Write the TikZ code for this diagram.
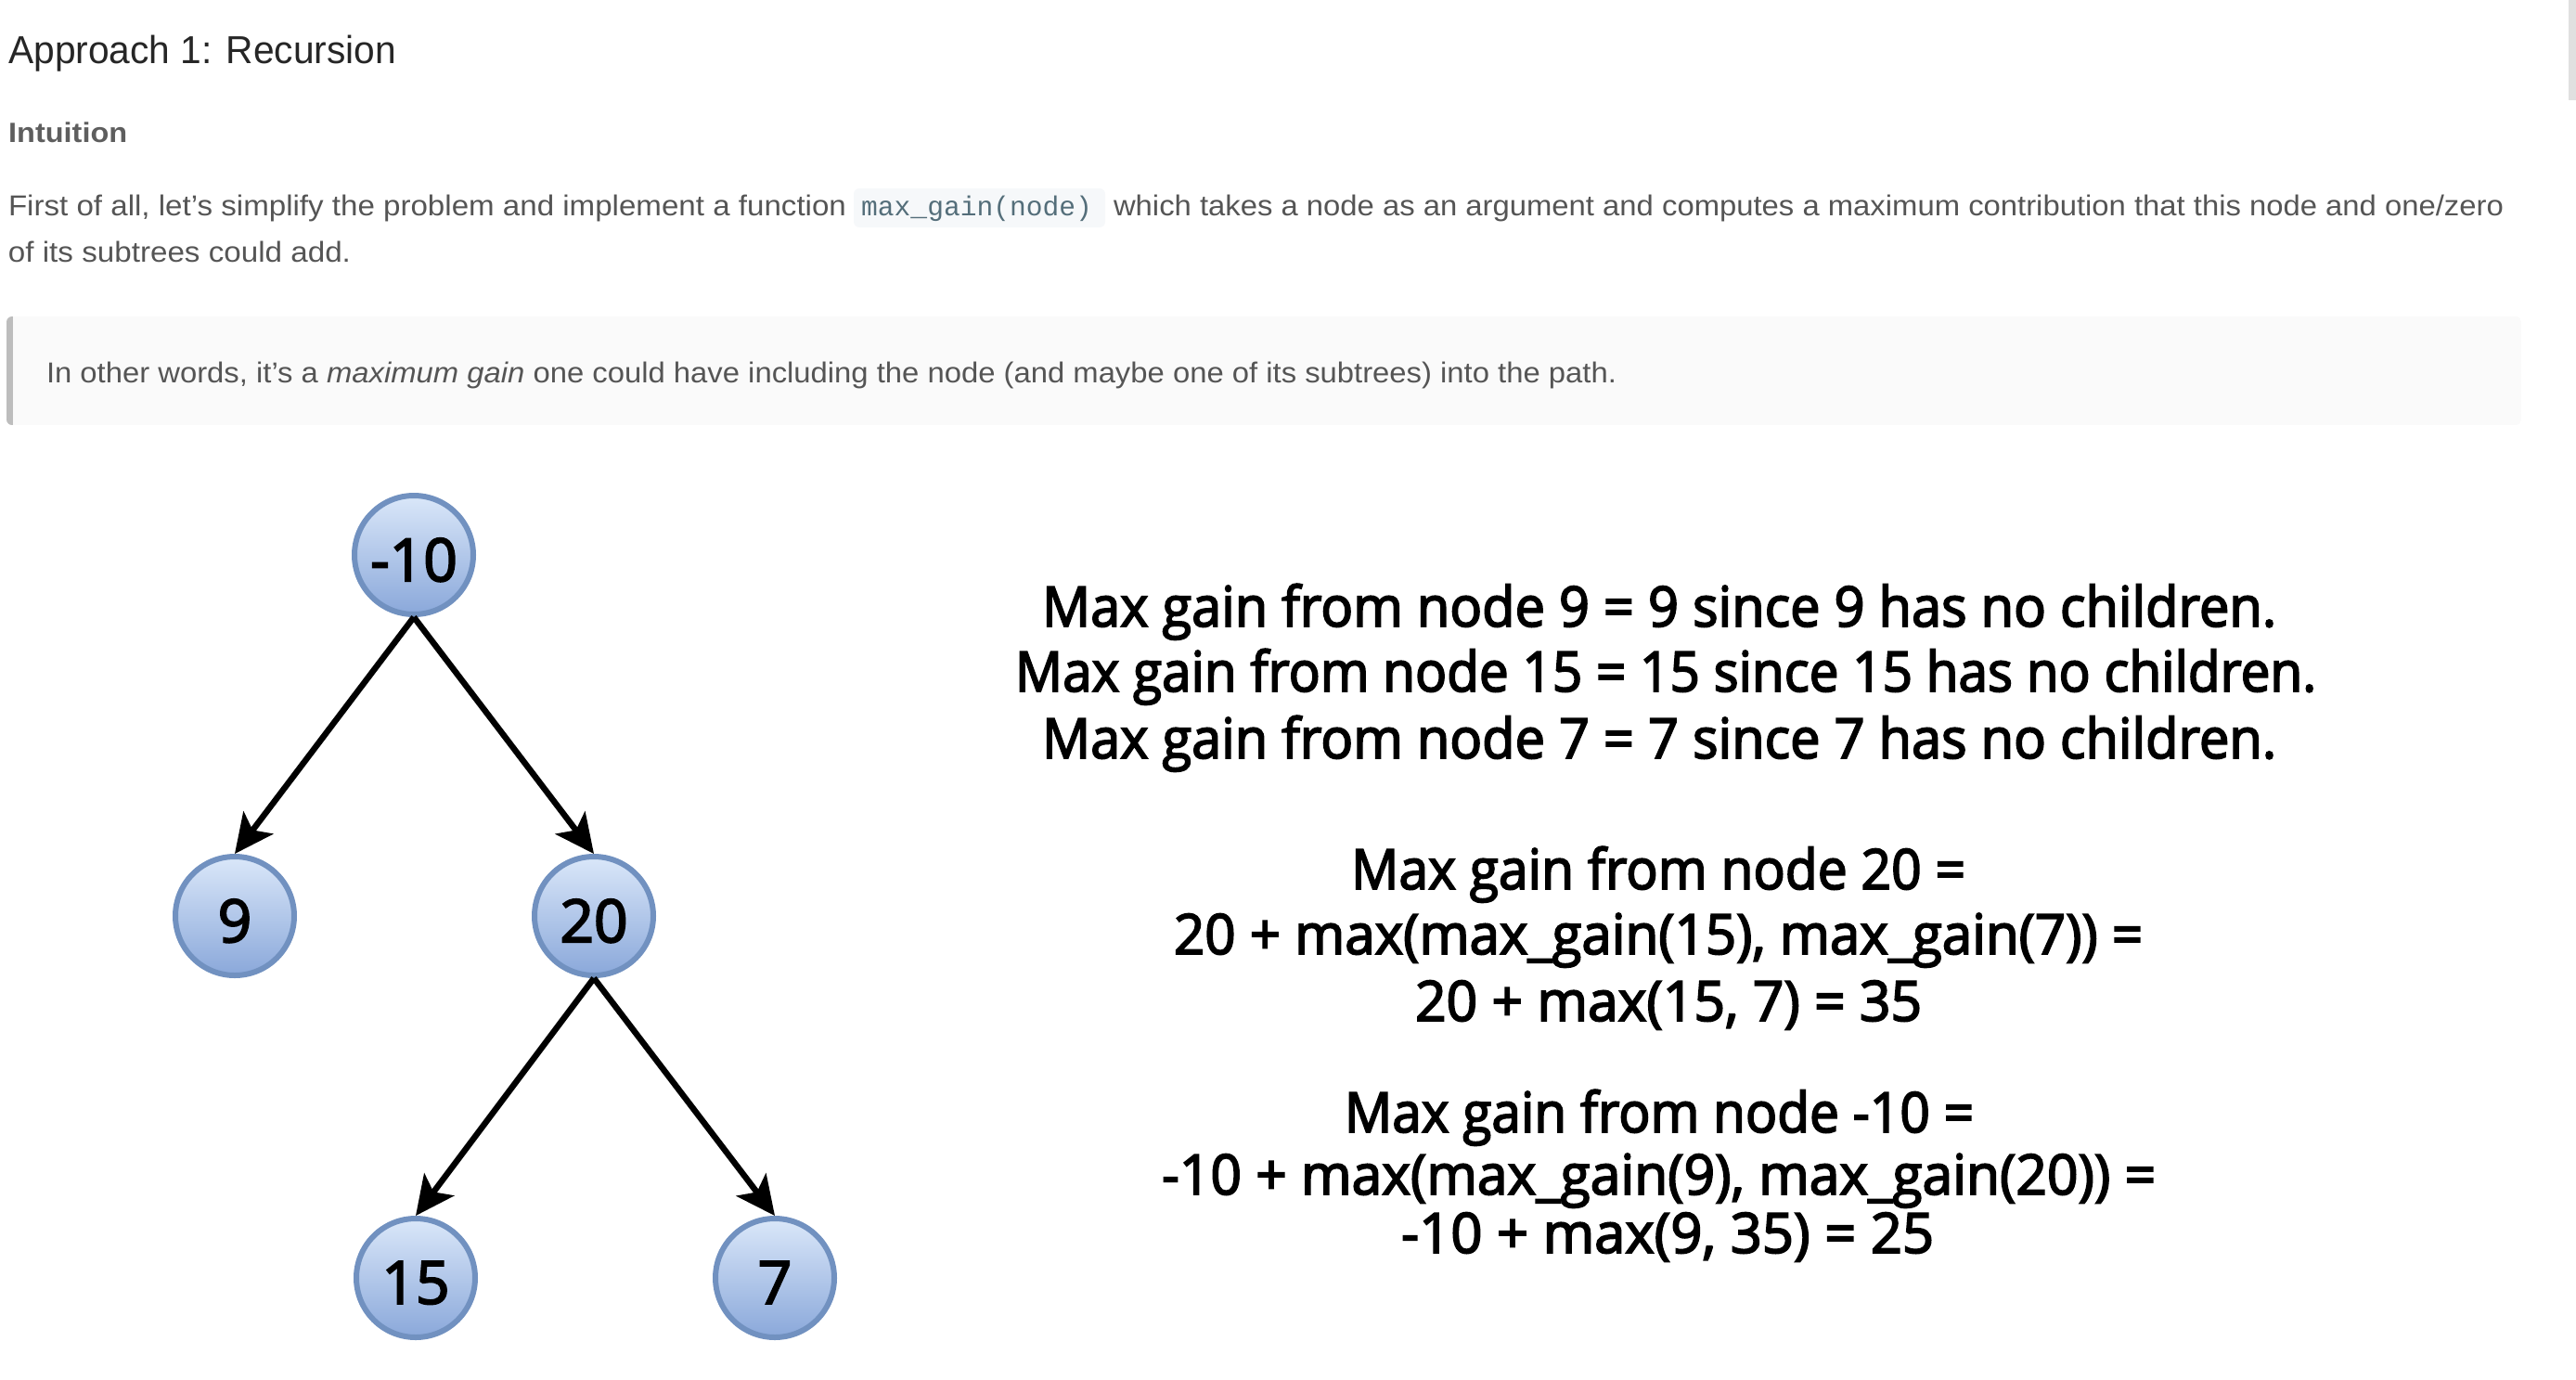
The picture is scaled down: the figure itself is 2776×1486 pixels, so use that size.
\documentclass[tikz,border=0pt]{standalone}
\usepackage{fontspec}
\usepackage{graphicx}
\usetikzlibrary{arrows.meta}
\setmainfont{Liberation Sans}
\newfontfamily\comicf{Open Sans}[UprightFeatures={FakeBold=3}]
\newfontfamily\codef{Liberation Mono}
\newcommand{\fitw}[2]{\resizebox{#1pt}{\height}{#2}}
\newcommand{\lowr}[1]{\raisebox{-5pt}[\height][0pt]{#1}}
\definecolor{titlec}{HTML}{262626}
\definecolor{intuc}{HTML}{5E5E5E}
\definecolor{bodyc}{HTML}{555555}
\definecolor{codebg}{HTML}{F6F8FA}
\definecolor{codec}{HTML}{546E7A}
\definecolor{quotebg}{HTML}{FAFAFA}
\definecolor{quotebar}{HTML}{BDBDBD}
\definecolor{scrollc}{HTML}{E0E0E0}
\definecolor{nodetop}{HTML}{DAE7F9}
\definecolor{nodebot}{HTML}{8AA8DA}
\definecolor{nodeedge}{HTML}{7191C0}
\tikzset{
  webtxt/.style={anchor=base west, inner sep=0pt, outer sep=0pt, text=bodyc, font=\fontsize{31}{36}\selectfont},
  comictxt/.style={anchor=base west, inner sep=0pt, outer sep=0pt, text=black, font=\comicf\fontsize{60}{70}\selectfont},
  tnode/.style={circle, minimum size=128pt, inner sep=0pt, line width=6pt, draw=nodeedge,
    top color=nodetop, bottom color=nodebot, text=black, font=\comicf\fontsize{64}{70}\selectfont},
  treearrow/.style={line width=6.5pt, black, -{Stealth[length=42pt, width=40pt, inset=10pt]}}
}
\begin{document}
\begin{tikzpicture}[x=1pt,y=-1pt]
\useasboundingbox (0,0) rectangle (2776,1486);
% scrollbar
\fill[scrollc] (2768,0) rectangle (2776,108);
% title
\node[anchor=base west, inner sep=0pt, text=titlec, font=\fontsize{42}{48}\selectfont] (title) at (9,68) {\fitw{418}{Approach 1: Recursion}};
\node[anchor=base west, inner sep=0pt, text=intuc, font=\bfseries\fontsize{30}{36}\selectfont] (intu) at (9,153) {\fitw{128}{Intuition}};
% paragraph
\node[webtxt] (p1a) at (9,232) {\fitw{903}{First of all, let's simplify the problem and implement a function}};
\fill[codebg, rounded corners=6pt] (920,203) rectangle (1191,245);
\node[anchor=base west, inner sep=0pt, text=codec, font=\codef\fontsize{29.6}{34}\selectfont] (code) at (928,232) {max\_gain(node)};
\node[webtxt] (p1b) at (1200,232) {\fitw{1498}{which takes a node as an argument and computes a maximum contribution that this node and one/zero}};
\node[webtxt] (p2) at (9,282) {\fitw{369}{of its subtrees could add.}};
% blockquote
\begin{scope}
\clip[rounded corners=6pt] (7,341) rectangle (2717,458);
\fill[quotebg] (7,341) rectangle (2717,458);
\fill[quotebar] (7,341) rectangle (14,458);
\end{scope}
\node[webtxt] (quote) at (50,412) {\fitw{1692}{In other words, it's a \textit{maximum gain} one could have including the node (and maybe one of its subtrees) into the path.}};
% tree
\node[tnode] (n10) at (446,598) {\lowr{-10}};
\node[tnode] (n9) at (253,987) {\lowr{9}};
\node[tnode] (n20) at (640,987) {\lowr{20}};
\node[tnode] (n15) at (448,1377) {\lowr{15}};
\node[tnode] (n7) at (835,1377) {\lowr{7}};
\draw[treearrow] (n10.south) -- (n9.north);
\draw[treearrow] (n10.south) -- (n20.north);
\draw[treearrow] (n20.south) -- (n15.north);
\draw[treearrow] (n20.south) -- (n7.north);
% explanation
\node[comictxt] (a1) at (1123,675) {\fitw{1330}{Max gain from node 9 = 9 since 9 has no children.}};
\node[comictxt] (a2) at (1094,745) {\fitw{1402}{Max gain from node 15 = 15 since 15 has no children.}};
\node[comictxt] (a3) at (1123,817) {\fitw{1330}{Max gain from node 7 = 7 since 7 has no children.}};
\node[comictxt] (b1) at (1456,958) {\fitw{662}{Max gain from node 20 =}};
\node[comictxt] (b2) at (1265,1028) {\fitw{1044}{20 + max(max\_gain(15), max\_gain(7)) =}};
\node[comictxt] (b3) at (1525,1100) {\fitw{546}{20 + max(15, 7) = 35}};
\node[comictxt] (c1) at (1449,1220) {\fitw{678}{Max gain from node -10 =}};
\node[comictxt] (c2) at (1252,1287) {\fitw{1071}{-10 + max(max\_gain(9), max\_gain(20)) =}};
\node[comictxt] (c3) at (1510,1350) {\fitw{574}{-10 + max(9, 35) = 25}};
\end{tikzpicture}
\end{document}
